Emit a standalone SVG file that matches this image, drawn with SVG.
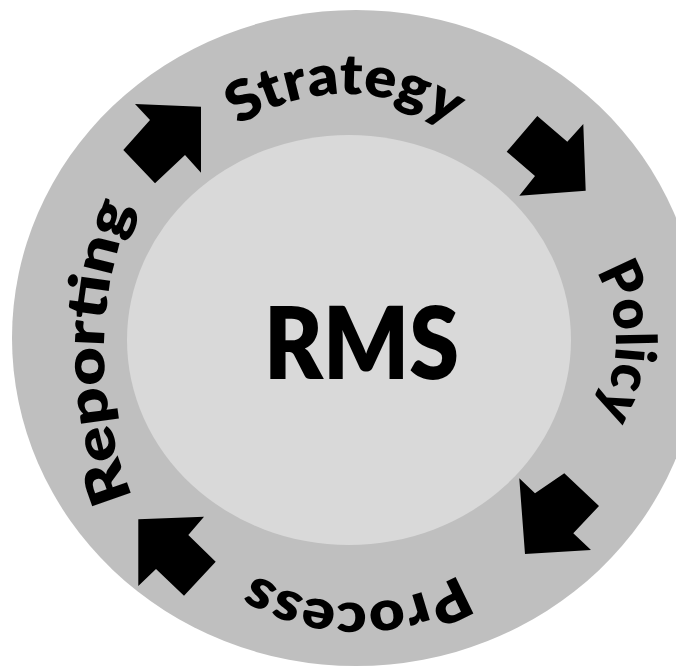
<svg xmlns="http://www.w3.org/2000/svg" xmlns:xlink="http://www.w3.org/1999/xlink" width="676" height="666" viewBox="0 0 676 666">
  <style>
    .ring { fill: #BFBFBF; }
    .core { fill: #D9D9D9; }
    .arrow { fill: #000000; }
    .arc { font-family: Lato, "Open Sans", "Liberation Sans", sans-serif; font-weight: 800; font-size: 56px; fill: #000000; }
    .title { font-family: Lato, "Open Sans", "Liberation Sans", sans-serif; font-weight: 800; font-size: 100px; fill: #000000; }
  </style>
  <defs>
    <path id="pStrategy" d="M 152,287 A 193 193 0 0 1 538,287" fill="none"/>
    <path id="pPolicy" d="M 484,210 A 132 132 0 0 1 484,474" fill="none"/>
    <path id="pProcess" d="M 552,408 A 195 195 0 0 1 162,408" fill="none"/>
    <path id="pReporting" d="M 484,732 A 380 380 0 0 1 484,-28" fill="none"/>
  </defs>
  <rect width="676" height="666" fill="#FFFFFF"/>
  <g id="ring">
    <ellipse class="ring" cx="356" cy="338" rx="344" ry="328"/>
  </g>
  <g id="rms">
    <ellipse class="core" cx="349" cy="340" rx="222" ry="205"/>
    <text class="title" x="264" y="379" textLength="195" lengthAdjust="spacingAndGlyphs">RMS</text>
  </g>
  <g id="strategy">
    <text class="arc"><textPath href="#pStrategy" xlink:href="#pStrategy" startOffset="50%" text-anchor="middle" textLength="225" lengthAdjust="spacingAndGlyphs">Strategy</textPath></text>
  </g>
  <g id="policy">
    <text class="arc"><textPath href="#pPolicy" xlink:href="#pPolicy" startOffset="50%" text-anchor="middle" textLength="148" lengthAdjust="spacingAndGlyphs">Policy</textPath></text>
  </g>
  <g id="process">
    <text class="arc"><textPath href="#pProcess" xlink:href="#pProcess" startOffset="50%" text-anchor="middle" textLength="215" lengthAdjust="spacingAndGlyphs">Process</textPath></text>
  </g>
  <g id="reporting">
    <text class="arc"><textPath href="#pReporting" xlink:href="#pReporting" startOffset="50%" text-anchor="middle" textLength="298" lengthAdjust="spacingAndGlyphs">Reporting</textPath></text>
  </g>
  <g id="connectors">
    <polygon class="arrow" points="135,104 201,106.7 201,172.7 185,155 155,183.3 123.3,150 150,120"/>
    <polygon class="arrow" points="537.3,116 567.3,141.7 583.3,124 585.7,190.7 519.3,195.7 535,176 506.7,151.7"/>
    <polygon class="arrow" points="564.3,473.3 599,506 573.3,533.3 591,550 525,554 519.3,478.3 535,493.3"/>
    <polygon class="arrow" points="138.3,519.3 204,516.7 188.3,535 215.7,561.7 184,595.7 156,569 138.3,586"/>
  </g>
</svg>
